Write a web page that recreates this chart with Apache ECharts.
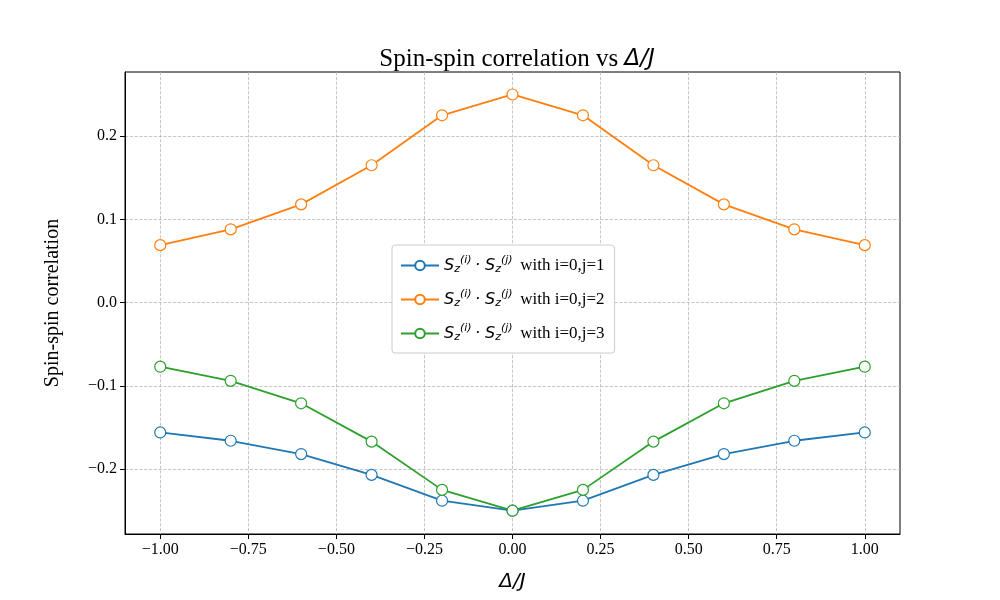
<!DOCTYPE html>
<html>
<head>
<meta charset="utf-8">
<script src="https://cdn.jsdelivr.net/npm/echarts@6/dist/echarts.min.js"></script>
<style>html,body{margin:0;padding:0;background:#fff}#chart{width:1000px;height:600px}</style>
</head>
<body>
<div id="chart"></div>
<script>
// 数据
var deltas = [-1.0, -0.8, -0.6, -0.4, -0.2, 0.0, 0.2, 0.4, 0.6, 0.8, 1.0];
var corrJ1 = [-0.156, -0.166, -0.182, -0.207, -0.238, -0.250, -0.238, -0.207, -0.182, -0.166, -0.156];
var corrJ2 = [0.069, 0.088, 0.118, 0.165, 0.225, 0.250, 0.225, 0.165, 0.118, 0.088, 0.069];
var corrJ3 = [-0.077, -0.094, -0.121, -0.167, -0.225, -0.250, -0.225, -0.167, -0.121, -0.094, -0.077];
var xTicks = [-1.0, -0.75, -0.5, -0.25, 0.0, 0.25, 0.5, 0.75, 1.0];
var yTicks = [-0.2, -0.1, 0.0, 0.1, 0.2];
var names = ['j=1', 'j=2', 'j=3'];
var colors = ['#1f77b4', '#ff7f0e', '#2ca02c'];

var serif = 'Liberation Serif, Times New Roman, serif';
var myChart = echarts.init(document.getElementById('chart'));

function pairs(ys) {
    return deltas.map(function (x, i) { return [x, ys[i]]; });
}

function makeSeries(name, ys, color) {
    return {
        name: name,
        type: 'line',
        data: pairs(ys),
        symbol: 'circle',
        symbolSize: 11,
        lineStyle: { color: color, width: 1.8 },
        itemStyle: { color: '#fff', borderColor: color, borderWidth: 1.2 },
        emphasis: { disabled: true }
    };
}

var gridLine = { show: true, lineStyle: { color: '#b8b8b8', type: 'dashed', width: 0.8 } };

var option = {
    animation: false,
    title: {
        text: '{a|Spin-spin correlation vs }{b|Δ/J}',
        left: 512, top: 42, textAlign: 'center',
        textStyle: {
            fontWeight: 'normal',
            rich: {
                a: { fontFamily: serif, fontSize: 25, fontWeight: 'normal', color: '#000' },
                b: { fontFamily: 'DejaVu Sans', fontStyle: 'italic', fontWeight: 'normal', fontSize: 23, color: '#000' }
            }
        }
    },
    grid: { left: 125, right: 100, top: 72, bottom: 66, show: true, borderColor: '#000', borderWidth: 1 },
    legend: {
        orient: 'vertical',
        left: 392, top: 245,
        padding: [10, 10, 10, 8],
        itemGap: 14,
        itemWidth: 38, itemHeight: 12,
        backgroundColor: '#fff',
        borderColor: '#cccccc', borderWidth: 1, borderRadius: 3,
        formatter: function (n) {
            return '{s|S}{z|z}{p|(i)} {s|· S}{z|z}{p|(j)} {t| with i=0,' + n + '}';
        },
        textStyle: {
            rich: {
                s: { fontFamily: 'DejaVu Sans', fontStyle: 'italic', fontSize: 16, color: '#000' },
                z: { fontFamily: 'DejaVu Sans', fontStyle: 'italic', fontSize: 11, color: '#000', padding: [8, 0, 0, 0] },
                p: { fontFamily: 'DejaVu Sans', fontStyle: 'italic', fontSize: 11, color: '#000', padding: [0, 0, 10, 0] },
                t: { fontFamily: serif, fontSize: 17, color: '#000' }
            }
        },
        data: names
    },
    xAxis: {
        type: 'value', min: -1.1, max: 1.1,
        name: 'Δ/J', nameLocation: 'middle', nameGap: 38,
        nameTextStyle: { fontFamily: 'DejaVu Sans', fontStyle: 'italic', fontSize: 20, color: '#000' },
        axisLine: { show: true, onZero: false, lineStyle: { color: '#000' } },
        axisTick: { show: true, customValues: xTicks, length: 5, lineStyle: { color: '#000' } },
        axisLabel: { customValues: xTicks, fontFamily: serif, fontSize: 16, color: '#000',
            formatter: function (v) { return v.toFixed(2).replace('-', '−'); } },
        splitLine: gridLine
    },
    yAxis: {
        type: 'value', min: -0.278, max: 0.277,
        name: 'Spin-spin correlation', nameLocation: 'middle', nameGap: 62,
        nameTextStyle: { fontFamily: serif, fontSize: 20, color: '#000' },
        axisLine: { show: true, onZero: false, lineStyle: { color: '#000' } },
        axisTick: { show: true, customValues: yTicks, length: 5, lineStyle: { color: '#000' } },
        axisLabel: { customValues: yTicks, fontFamily: serif, fontSize: 16, color: '#000',
            formatter: function (v) { return v.toFixed(1).replace('-', '−'); } },
        splitLine: gridLine
    },
    series: [
        makeSeries(names[0], corrJ1, colors[0]),
        makeSeries(names[1], corrJ2, colors[1]),
        makeSeries(names[2], corrJ3, colors[2])
    ]
};
myChart.setOption(option);
</script>
</body>
</html>
